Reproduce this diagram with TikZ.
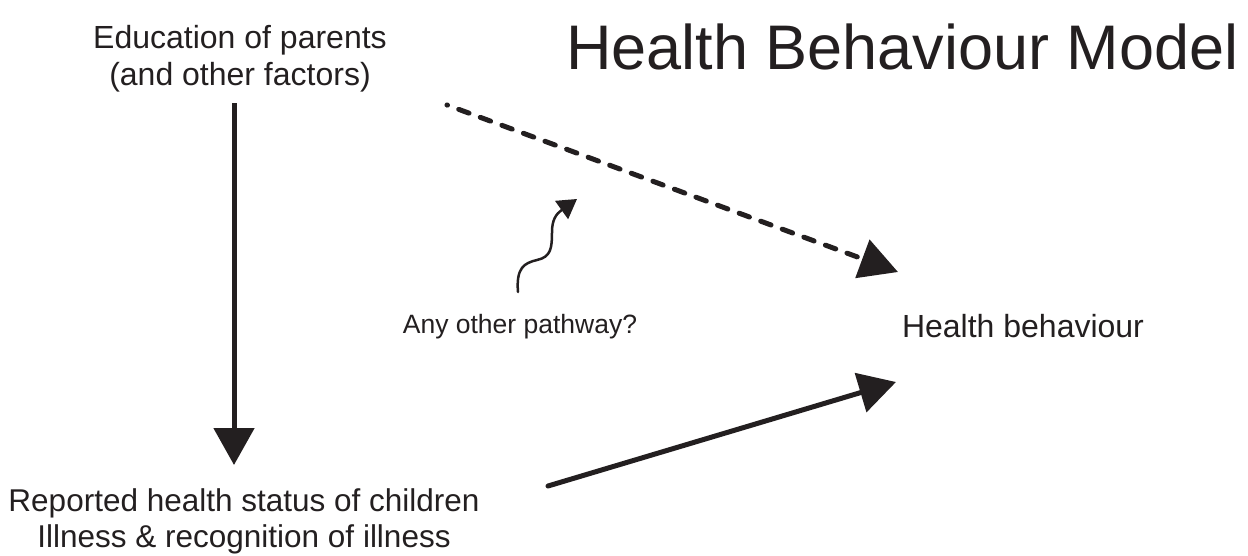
\documentclass[tikz,border=0pt]{standalone}
\usepackage{fontspec}
\setmainfont{Liberation Sans}
\usetikzlibrary{arrows.meta}
\definecolor{ink}{HTML}{231F20}
\tikzset{
  lbl/.style={inner sep=0pt, text=ink, align=center, anchor=base},
  bigarrow/.style={draw=ink, line width=5pt, -{Triangle[length=37pt,width=40pt]}},
  dasharrow/.style={draw=ink, line width=5pt, line cap=round, dash pattern=on 11pt off 12pt, dash phase=10.5pt, -{Triangle[length=38pt,width=40pt]}},
  wavyarrow/.style={draw=ink, line width=2.5pt, -{Triangle[length=19pt,width=22pt]}}
}
\begin{document}
\begin{tikzpicture}[x=1pt,y=-1pt]
\useasboundingbox (0,0) rectangle (1248,555);
% texts
\node[lbl, font=\fontsize{63}{70}\selectfont] (title) at (902.5,69) {Health Behaviour Model};
\node[lbl, font=\fontsize{32}{37}\selectfont] (edu) at (240,85) {Education of parents\\(and other factors)};
\node[lbl, font=\fontsize{31.5}{36}\selectfont] (rep) at (244,547) {Reported health status of children\\Illness \& recognition of illness};
\node[lbl, font=\fontsize{32}{37}\selectfont] (hb) at (1023,337) {Health behaviour};
\node[lbl, font=\fontsize{26.5}{30}\selectfont] (any) at (520,333) {Any other pathway?};
% connector ends
\coordinate (eduS) at (234,103);
\coordinate (repN) at (234,465);
\coordinate (dS) at (447,105);
\coordinate (hbNW) at (898,272);
\coordinate (repE) at (548,486);
\coordinate (hbSW) at (896,382);
\coordinate (anyN) at (518,292);
\coordinate (wT) at (577,199);
% connectors
\draw[bigarrow] (eduS) -- (repN);
\draw[dasharrow] (dS) -- (hbNW);
\draw[bigarrow, line cap=round] (repE) -- (hbSW);
\draw[wavyarrow, line cap=round] (anyN) .. controls (516,268) and (524,263) .. (537,260)
  .. controls (551,257) and (552,248) .. (552,232)
  .. controls (552,220) and (556,214) .. (wT);
\end{tikzpicture}
\end{document}
